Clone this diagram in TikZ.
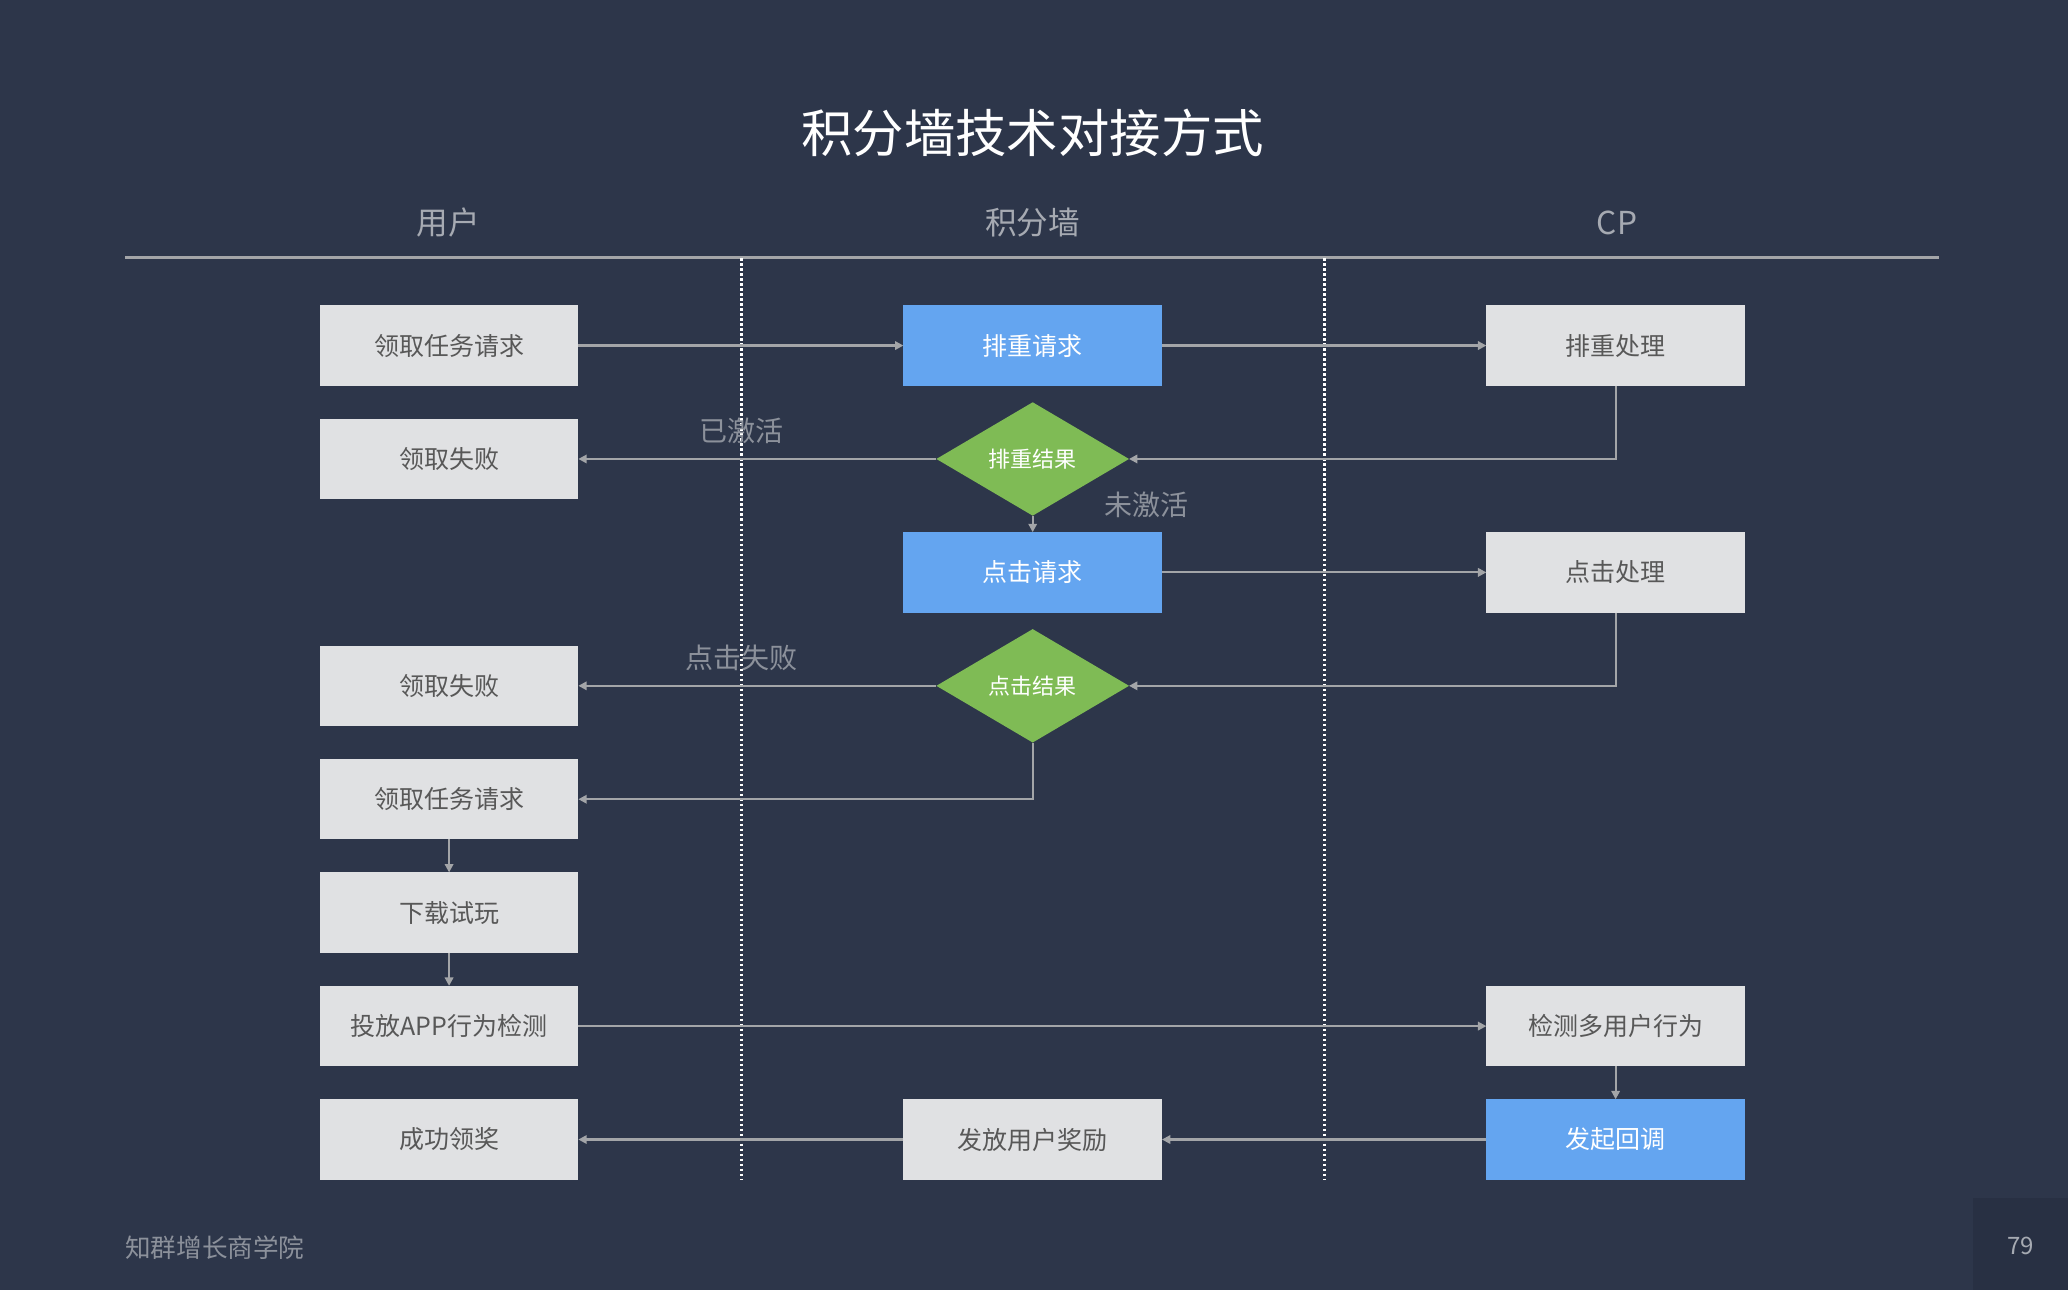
\documentclass[tikz,border=0pt]{standalone}
\usepackage{fontspec}
\setmainfont{Noto Sans CJK SC}
\usetikzlibrary{shapes.geometric,arrows.meta}
\definecolor{bg}{HTML}{2D364A}
\definecolor{pgbg}{HTML}{283043}
\definecolor{boxgray}{HTML}{E0E1E3}
\definecolor{boxtext}{HTML}{585858}
\definecolor{blue}{HTML}{64A5F0}
\definecolor{green}{HTML}{7FBB55}
\definecolor{linegray}{HTML}{A3A5A8}
\definecolor{labelgray}{HTML}{8C919B}
\definecolor{headgray}{HTML}{A6AAB2}
\tikzset{
  every node/.style={inner sep=0pt, outer sep=0pt},
  graybox/.style={rectangle, fill=boxgray, minimum width=129.25pt, minimum height=40.2pt,
    text=boxtext, font=\fontsize{12.5pt}{14pt}\selectfont},
  bluebox/.style={rectangle, fill=blue, minimum width=129.25pt, minimum height=40.2pt,
    text=white, font=\fontsize{12.5pt}{14pt}\selectfont},
  decision/.style={diamond, fill=green, minimum width=96.3pt, minimum height=56.7pt,
    shape aspect=1.7, text=white, font=\fontsize{11pt}{13pt}\selectfont},
  conn/.style={draw=linegray, line width=1.1pt, -{Triangle[length=4.2pt,width=4.2pt]}},
  lbl/.style={text=labelgray, font=\fontsize{14pt}{16pt}\selectfont},
  head/.style={text=headgray, font=\fontsize{15.8pt}{18pt}\selectfont},
  lane/.style={draw=white, line width=1.4pt, dash pattern=on 1.4pt off 1.1pt}
}
\begin{document}
\begin{tikzpicture}[x=0.65944pt, y=-0.65944pt]
\fill[bg] (0,0) rectangle (1568,978);
\useasboundingbox (0,0) rectangle (1568,978);
\fill[pgbg] (1496,908) rectangle (1568,978);

\node[text=white, font=\fontsize{25.7pt}{28pt}\selectfont] (title) at (783,101) {积分墙技术对接方式};
\node[head] (h1) at (340,169) {用户};
\node[head] (h2) at (783,169) {积分墙};
\node[head] (h3) at (1226,169) {CP};
\coordinate (rl) at (95,195);
\coordinate (rr) at (1470,195);
\draw[draw=linegray, line width=1.5pt] (rl) -- (rr);

\coordinate (v1t) at (562,196);
\coordinate (v1b) at (562,895);
\coordinate (v2t) at (1004,196);
\coordinate (v2b) at (1004,895);
\draw[lane] (v1t) -- (v1b);
\draw[lane] (v2t) -- (v2b);

% user column
\node[graybox] (u1) at (340.5,262) {领取任务请求};
\node[graybox] (u2) at (340.5,348) {领取失败};
\node[graybox] (u4) at (340.5,520) {领取失败};
\node[graybox] (u5) at (340.5,606) {领取任务请求};
\node[graybox] (u6) at (340.5,692) {下载试玩};
\node[graybox] (u7) at (340.5,778) {投放APP行为检测};
\node[graybox] (u8) at (340.5,864) {成功领奖};
% wall column
\node[bluebox] (w1) at (783,262) {排重请求};
\node[decision] (d1) at (783,348) {排重结果};
\node[bluebox] (w3) at (783,434) {点击请求};
\node[decision] (d2) at (783,520) {点击结果};
\node[graybox] (w8) at (783,864) {发放用户奖励};
% CP column
\node[graybox] (c1) at (1225,262) {排重处理};
\node[graybox] (c3) at (1225,434) {点击处理};
\node[graybox] (c7) at (1225,778) {检测多用户行为};
\node[bluebox] (c8) at (1225,864) {发起回调};

% connectors
\draw[conn] (u1) -- (w1);
\draw[conn] (w1) -- (c1);
\draw[conn] (c1.south) |- (d1.east);
\draw[conn] (d1.west) -- (u2);
\draw[conn] (d1.south) -- (w3.north);
\draw[conn] (w3) -- (c3);
\draw[conn] (c3.south) |- (d2.east);
\draw[conn] (d2.west) -- (u4);
\draw[conn] (d2.south) |- (u5.east);
\draw[conn] (u5) -- (u6);
\draw[conn] (u6) -- (u7);
\draw[conn] (u7) -- (c7);
\draw[conn] (c7) -- (c8);
\draw[conn] (c8) -- (w8);
\draw[conn] (w8) -- (u8);

% labels
\node[lbl] (l1) at (562,327) {已激活};
\node[lbl] (l2) at (869,383) {未激活};
\node[lbl] (l3) at (562,499) {点击失败};

% footer
\node[text=labelgray, font=\fontsize{12.8pt}{15pt}\selectfont, anchor=west] (foot) at (95,946) {知群增长商学院};
\node[text=headgray, font=\fontsize{12pt}{14pt}\selectfont] (pg) at (1532,945) {79};
\end{tikzpicture}
\end{document}
